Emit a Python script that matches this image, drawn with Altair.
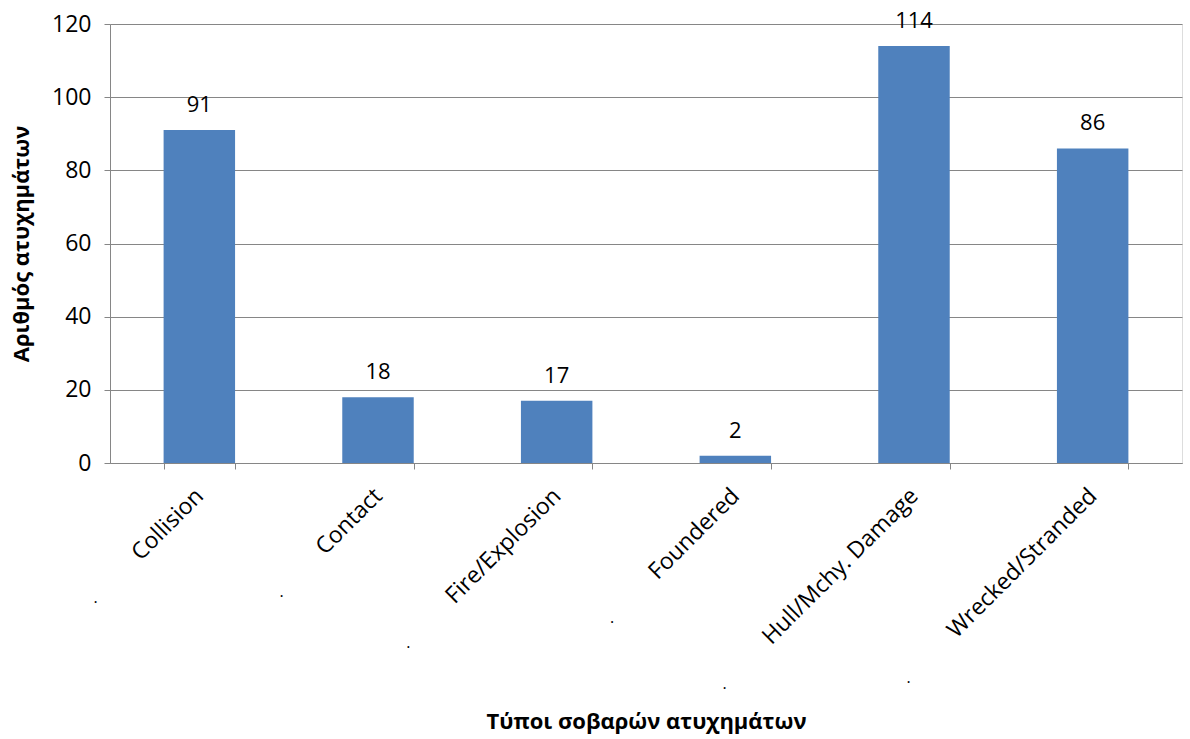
import altair as alt
import pandas as pd

categories = ["Collision", "Contact", "Fire/Explosion", "Foundered", "Hull/Mchy. Damage", "Wrecked/Stranded"]
values = [91, 18, 17, 2, 114, 86]

# stray "." marks seen below the category labels (category-index units, value units)
dot_pos = [-0.08, 0.96, 1.67, 2.81, 3.44, 4.47]
dot_val = [-36.9, -35.2, -49.2, -42.3, -60.4, -58.7]

df = pd.DataFrame({"cat": categories, "val": values})
dots = pd.DataFrame({"p": dot_pos, "v": dot_val, "t": ["."] * len(dot_pos)})

FONT = "Open Sans"
W, H = 1072, 439

y_scale = alt.Scale(domain=[0, 120])
x_scale = alt.Scale(paddingInner=0.6, paddingOuter=0.3)

bars = alt.Chart(df).mark_bar(color="#4F81BD").encode(
    x=alt.X("cat:N", sort=categories, scale=x_scale,
            axis=alt.Axis(title="Τύποι σοβαρών ατυχημάτων", labelAngle=-45, labelAlign="right",
                          labelBaseline="middle", labelPadding=23, labelFontSize=23, labelFont=FONT,
                          labelLimit=0, labelColor="#000000", tickBand="extent", tickSize=6,
                          tickColor="#868686", domainColor="#868686", grid=False,
                          titleFont=FONT, titleFontSize=22, titleFontWeight="bold",
                          titleColor="#000000", titleY=265, titleBaseline="alphabetic")),
    y=alt.Y("val:Q", scale=y_scale,
            axis=alt.Axis(title="Αριθμός ατυχημάτων", values=[0, 20, 40, 60, 80, 100, 120],
                          labelFontSize=23, labelFont=FONT, labelColor="#000000", labelPadding=13,
                          tickSize=6, tickColor="#868686", domainColor="#868686",
                          gridColor="#868686", gridWidth=1, titleFont=FONT, titleFontSize=22,
                          titleFontWeight="bold", titleColor="#000000", titlePadding=18)),
)

labels = alt.Chart(df).mark_text(baseline="alphabetic", dy=-18, fontSize=22, font=FONT, color="#000000").encode(
    x=alt.X("cat:N", sort=categories, scale=x_scale, axis=None),
    y=alt.Y("val:Q", scale=y_scale),
    text=alt.Text("val:Q"),
)

dot_layer = alt.Chart(dots).mark_text(fontSize=16, font=FONT, color="#000000", baseline="middle").encode(
    x=alt.X("p:Q", scale=alt.Scale(domain=[0, 6]), axis=None),
    y=alt.Y("v:Q", scale=y_scale),
    text="t:N",
)

chart = alt.layer(bars, labels, dot_layer).resolve_scale(x="independent").properties(
    width=W, height=H,
    autosize=alt.AutoSizeParams(type="none"),
    padding={"left": 110, "top": 24, "right": 8, "bottom": 276},
).configure_view(stroke=None).configure(background="#ffffff")

chart.save("out.html", embed_options={"renderer": "svg", "actions": False})
